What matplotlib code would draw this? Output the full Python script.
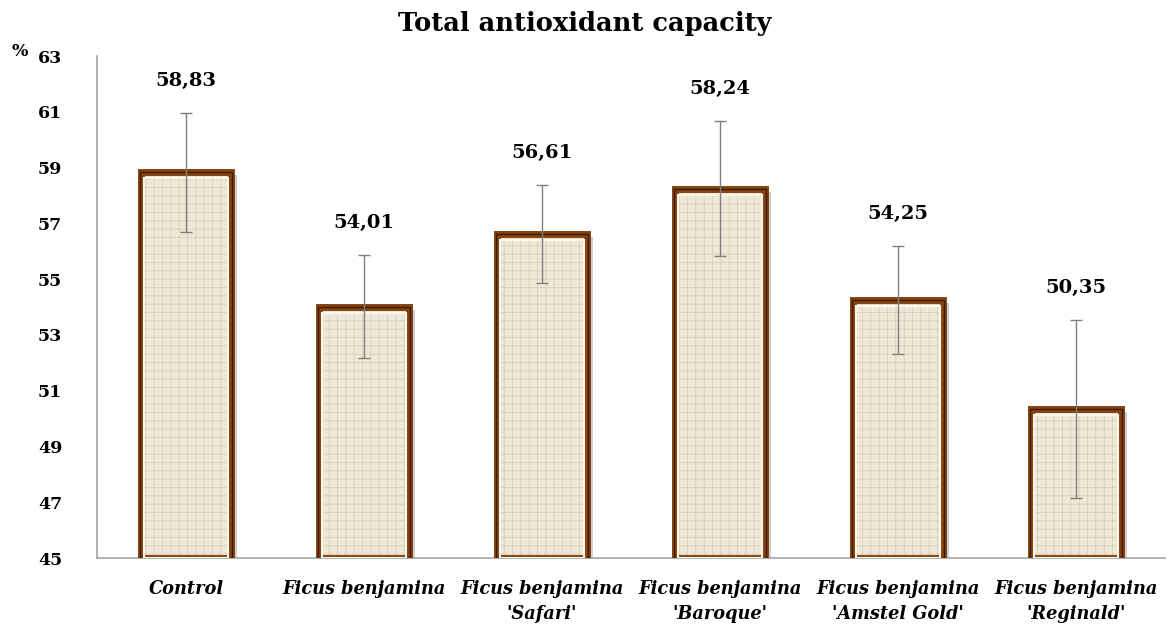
import matplotlib
matplotlib.use("Agg")
import matplotlib.pyplot as plt
import numpy as np

categories = ["Control", "Ficus benjamina", "Ficus benjamina\n'Safari'",
              "Ficus benjamina\n'Baroque'", "Ficus benjamina\n'Amstel Gold'",
              "Ficus benjamina\n'Reginald'"]
values = [58.83, 54.01, 56.61, 58.24, 54.25, 50.35]
errors = [2.14, 1.84, 1.75, 2.42, 1.95, 3.2]
value_labels = ["58,83", "54,01", "56,61", "58,24", "54,25", "50,35"]
yticks = [45, 47, 49, 51, 53, 55, 57, 59, 61, 63]

plt.rcParams['font.family'] = ['DejaVu Serif']
plt.rcParams['hatch.linewidth'] = 0.5

W, H = 1167, 624
fig = plt.figure(figsize=(W / 100, H / 100), dpi=100)
ax = fig.add_axes([97 / W, (H - 558) / H, 1068 / W, 502 / H])

x = np.arange(len(categories))
bw = 0.505
base = 45
heights = np.array(values) - base

# shadow
ax.bar(x + 0.035, heights - 0.1, bw, bottom=base, color="#a8a8a8",
       alpha=0.55, linewidth=0, zorder=1)
# fabric fill
ax.bar(x, heights, bw, bottom=base, color="#efe8d8",
       edgecolor="#d6cbb3", hatch="++", linewidth=0, zorder=2)
# frame: brown band with dark outline
ax.bar(x, heights, bw, bottom=base, fill=False,
       edgecolor="#86420f", linewidth=5.0, zorder=3)
ax.bar(x, heights, bw + 0.012, bottom=base, fill=False,
       edgecolor="#3a1c06", linewidth=1.0, zorder=4)
# inner light bevel
ax.bar(x, heights - 0.22, bw - 0.03, bottom=base, fill=False,
       edgecolor="#fbf6ea", linewidth=1.5, zorder=4)

ax.errorbar(x, values, yerr=errors, fmt="none", ecolor="#808080",
            elinewidth=1.0, capsize=4, capthick=1.0, zorder=5)

for xi, v, e, lab in zip(x, values, errors, value_labels):
    ax.annotate(lab, (xi, v + e), xytext=(0, 23), textcoords="offset points",
                ha="center", va="center", fontsize=14, fontweight="bold")

ax.set_ylim(45, 63)
ax.set_xlim(-0.5, len(categories) - 0.5)
ax.set_yticks(yticks)
ax.set_yticklabels([str(t) for t in yticks], fontsize=12.5, fontweight="bold")
ax.set_xticks(x)
ax.set_xticklabels(categories, fontsize=12.8, fontweight="bold", style="italic",
                   linespacing=1.45)
ax.tick_params(axis="both", length=0)
ax.tick_params(axis="y", pad=25)
ax.tick_params(axis="x", pad=16)
for s in ["top", "right"]:
    ax.spines[s].set_visible(False)
for s in ["left", "bottom"]:
    ax.spines[s].set_color("#a6a6a6")
    ax.spines[s].set_linewidth(1.2)

fig.text(585 / W, 1 - 23 / H, "Total antioxidant capacity", ha="center",
         va="center", fontsize=18.5, fontweight="bold")
fig.text(20 / W, 1 - 52 / H, "%", ha="center", va="center", fontsize=12.5,
         fontweight="bold")

fig.savefig("out.png", dpi=100)
